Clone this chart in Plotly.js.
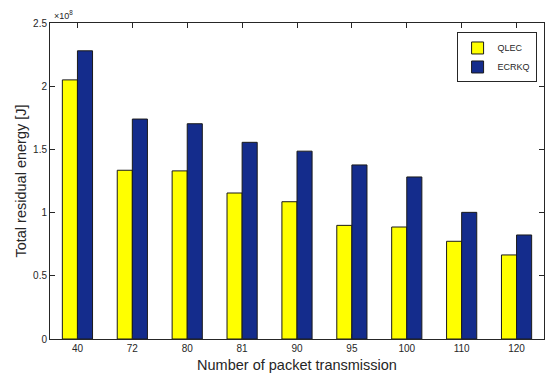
<!DOCTYPE html>
<html>
<head>
<meta charset="utf-8">
<script src="https://cdn.plot.ly/plotly-3.0.1.min.js"></script>
<style>html,body{margin:0;padding:0;background:#fff;}</style>
</head>
<body>
<div id="chart" style="width:549px;height:375px;"></div>
<script>
const categories = ["40", "72", "80", "81", "90", "95", "100", "110", "120"];
const qlec = [2.05e8, 1.335e8, 1.33e8, 1.155e8, 1.086e8, 0.899e8, 0.886e8, 0.773e8, 0.665e8];
const ecrkq = [2.28e8, 1.74e8, 1.703e8, 1.556e8, 1.486e8, 1.377e8, 1.282e8, 1.002e8, 0.823e8];
const yTickVals = [0, 0.5e8, 1e8, 1.5e8, 2e8, 2.5e8];
const yTickText = ["0", "0.5", "1", "1.5", "2", "2.5"];

const axisColor = "#262626";
const font = {family: "Liberation Sans, Arial, sans-serif", color: axisColor};

const traces = [
  {type: "bar", name: "QLEC", x: categories, y: qlec,
   marker: {color: "#ffff00", line: {color: "#1a1a1a", width: 1}}},
  {type: "bar", name: "ECRKQ", x: categories, y: ecrkq,
   marker: {color: "#142c8c", line: {color: "#1a1a1a", width: 1}}}
];

const layout = {
  width: 549, height: 375,
  margin: {l: 50, r: 5, t: 23, b: 36},
  paper_bgcolor: "#ffffff", plot_bgcolor: "#ffffff",
  font: Object.assign({size: 10}, font),
  barmode: "group", bargap: 0.45, bargroupgap: 0,
  showlegend: true,
  legend: {x: 0.985, y: 0.97, xanchor: "right", yanchor: "top",
    bgcolor: "#ffffff", bordercolor: axisColor, borderwidth: 1,
    font: Object.assign({size: 9}, font), tracegroupgap: 0, itemwidth: 30},
  xaxis: {type: "category", range: [-0.5, 8.5], showline: true, linecolor: axisColor, linewidth: 1,
    mirror: "ticks", ticks: "inside", ticklen: 5, tickcolor: axisColor, showgrid: false, zeroline: false,
    tickfont: Object.assign({size: 10}, font),
    title: {text: "Number of packet transmission", font: Object.assign({size: 14.5}, font), standoff: 6}},
  yaxis: {range: [0, 2.5e8], tickvals: yTickVals, ticktext: yTickText, showline: true, linecolor: axisColor,
    linewidth: 1, mirror: "ticks", ticks: "inside", ticklen: 5, tickcolor: axisColor, showgrid: false,
    zeroline: false, tickfont: Object.assign({size: 10}, font),
    title: {text: "Total residual energy [J]", font: Object.assign({size: 14.5}, font), standoff: 3}},
  annotations: [{xref: "paper", yref: "paper", x: 0.0, y: 1.0, xanchor: "left", yanchor: "bottom",
    xshift: 2, yshift: 0, showarrow: false, text: "×10<sup>8</sup>", font: Object.assign({size: 9}, font)}]
};

Plotly.newPlot("chart", traces, layout, {displayModeBar: false, staticPlot: true});
</script>
</body>
</html>
